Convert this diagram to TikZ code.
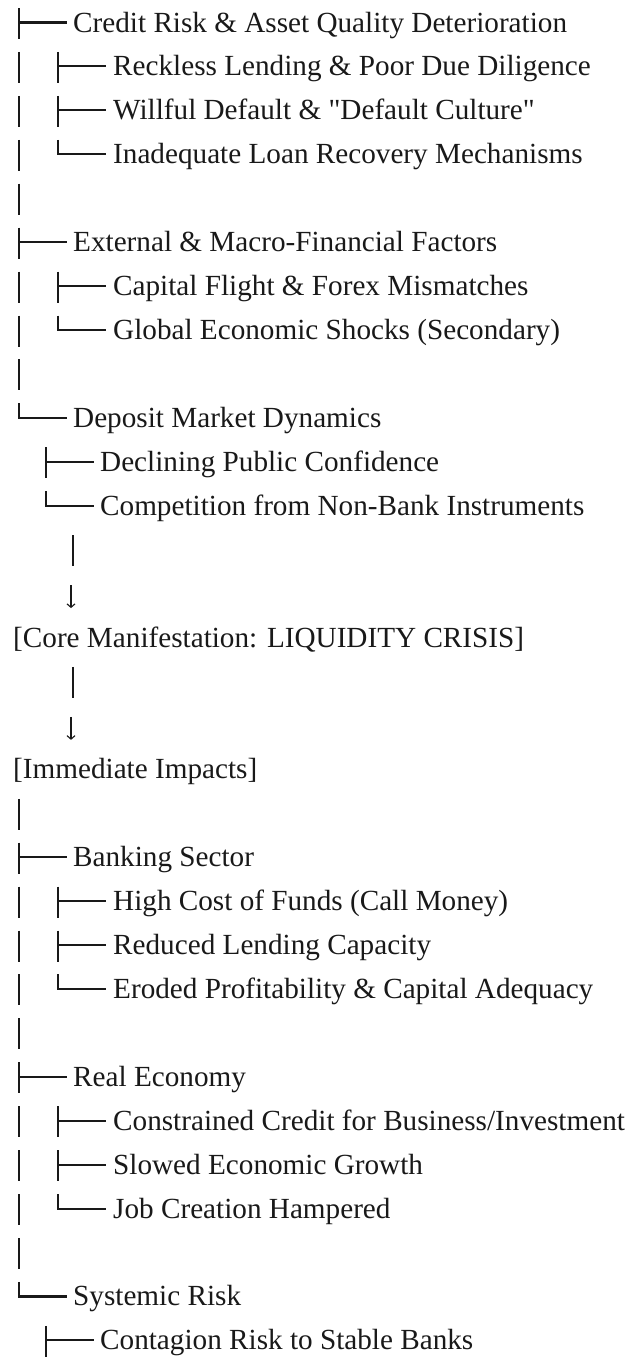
\documentclass[tikz,border=0pt]{standalone}
\usepackage{fontspec}
\setmainfont{Liberation Serif}
\usetikzlibrary{arrows.meta}

% row baselines are 43.93pt apart, the first at 32pt from the top
\newcommand\rowbase[1]{32+#1*43.93}
% tree glyphs: a vertical bar, a tee and a corner, each at x = #1 on row #2
\newcommand\gvert[2]{\draw[rule] (#1,{\rowbase{#2}-24}) -- (#1,{\rowbase{#2}+7});}
\newcommand\gtee[2]{\gvert{#1}{#2}\draw[rule] (#1,{\rowbase{#2}-9.5}) -- ++(48,0);}
\newcommand\gcorner[2]{\draw[rule] (#1,{\rowbase{#2}-24}) |- ++(48,14.5);}
% a small down arrow on row #1
\newcommand\gdown[1]{\draw[flow] (71,{\rowbase{#1}-18}) -- (71,{\rowbase{#1}+5});}
% a text entry: name, x, row, text
\newcommand\entry[4]{\node[itemtext] (#1) at (#2,{\rowbase{#3}}) {#4};}

\tikzset{
  rule/.style={line width=2.1pt, line cap=butt, line join=miter, draw=black!90},
  itemtext/.style={anchor=base west, inner sep=0pt, text=black!90,
    font=\fontsize{29.2}{44}\selectfont},
  flow/.style={line width=1.1pt, draw=black!90, -{Straight Barb[length=3.5pt,width=8pt]}},
}

\begin{document}
\begin{tikzpicture}[x=1pt,y=-1pt]
\fill[white] (0,0) rectangle (641,1358);
\useasboundingbox (0,0) rectangle (641,1358);

% causes
\gtee{19}{0}   \entry{credit}{73}{0}{Credit Risk \& Asset Quality Deterioration}
\gvert{19}{1}  \gtee{58}{1}   \entry{reckless}{113}{1}{Reckless Lending \& Poor Due Diligence}
\gvert{19}{2}  \gtee{58}{2}   \entry{willful}{113}{2}{Willful Default \& \textquotedbl Default Culture\textquotedbl}
\gvert{19}{3}  \gcorner{58}{3} \entry{recovery}{113}{3}{Inadequate Loan Recovery Mechanisms}
\gvert{19}{4}
\gtee{19}{5}   \entry{external}{73}{5}{External \& Macro-Financial Factors}
\gvert{19}{6}  \gtee{58}{6}   \entry{flight}{113}{6}{Capital Flight \& Forex Mismatches}
\gvert{19}{7}  \gcorner{58}{7} \entry{shocks}{113}{7}{Global Economic Shocks (Secondary)}
\gvert{19}{8}
\gcorner{19}{9} \entry{deposit}{73}{9}{Deposit Market Dynamics}
\gtee{46}{10}  \entry{confidence}{100}{10}{Declining Public Confidence}
\gcorner{46}{11} \entry{nonbank}{100}{11}{Competition from Non-Bank Instruments}

% core manifestation
\gvert{73}{12}
\gdown{13}
\entry{core}{13}{14}{[Core Manifestation: LIQUIDITY CRISIS]}
\gvert{73}{15}
\gdown{16}
\entry{impacts}{13}{17}{[Immediate Impacts]}

% impacts
\gvert{19}{18}
\gtee{19}{19}  \entry{banking}{73}{19}{Banking Sector}
\gvert{19}{20} \gtee{58}{20}  \entry{cost}{113}{20}{High Cost of Funds (Call Money)}
\gvert{19}{21} \gtee{58}{21}  \entry{capacity}{113}{21}{Reduced Lending Capacity}
\gvert{19}{22} \gcorner{58}{22} \entry{eroded}{113}{22}{Eroded Profitability \& Capital Adequacy}
\gvert{19}{23}
\gtee{19}{24}  \entry{real}{73}{24}{Real Economy}
\gvert{19}{25} \gtee{58}{25}  \entry{constrained}{113}{25}{Constrained Credit for Business/Investment}
\gvert{19}{26} \gtee{58}{26}  \entry{growth}{113}{26}{Slowed Economic Growth}
\gvert{19}{27} \gcorner{58}{27} \entry{jobs}{113}{27}{Job Creation Hampered}
\gvert{19}{28}
\gcorner{19}{29} \entry{systemic}{73}{29}{Systemic Risk}
\gtee{46}{30}  \entry{contagion}{100}{30}{Contagion Risk to Stable Banks}
\end{tikzpicture}
\end{document}
